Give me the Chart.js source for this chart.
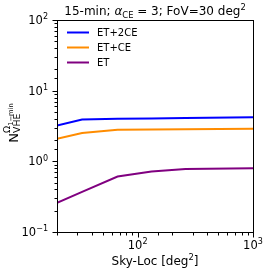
<!DOCTYPE html>
<html>
<head>
<meta charset="utf-8">
<script src="https://cdn.jsdelivr.net/npm/chart.js@4/dist/chart.umd.min.js"></script>
<style>
html,body{margin:0;padding:0;background:#fff;}
#wrap{width:266px;height:273px;}
</style>
</head>
<body>
<div id="wrap"><canvas id="c" width="266" height="273"></canvas></div>
<script>
// ---- data ----
const skyLoc = [20, 33, 67, 132, 260, 1000];           // deg^2
const seriesNames = ['ET+2CE', 'ET+CE', 'ET'];
const et2ce = [3.22, 3.9, 4.0, 4.05, 4.1, 4.2];
const etce  = [2.08, 2.52, 2.8, 2.83, 2.85, 2.88];
const et    = [0.258, 0.37, 0.61, 0.72, 0.78, 0.80];
const seriesColors = ['#0000ff', '#ff8c00', '#800080'];
const xTickValues = [100, 1000];
const xTickExps = ['2', '3'];
const yTickValues = [0.1, 1, 10, 100];
const yTickExps = ['\u22121', '0', '1', '2'];

const FONT = '"DejaVu Sans", sans-serif';

function pts(arr){ return skyLoc.map((x,i)=>({x:x, y:arr[i]})); }

function measureParts(ctx, parts){
  let w = 0;
  for (const p of parts){
    ctx.font = (p.it ? 'italic ' : '') + p.s + 'px ' + FONT;
    p.w = ctx.measureText(p.t).width;
    w += p.w;
  }
  return w;
}
function drawParts(ctx, parts, x, y){
  let cx = x;
  for (const p of parts){
    ctx.font = (p.it ? 'italic ' : '') + p.s + 'px ' + FONT;
    ctx.fillText(p.t, cx, y + (p.dy||0));
    cx += p.w;
  }
}

const decor = {
  id: 'decor',
  afterDraw(chart){
    const ctx = chart.ctx;
    const a = chart.chartArea;
    const xs = chart.scales.x, ys = chart.scales.y;
    ctx.save();
    ctx.fillStyle = '#000';
    ctx.strokeStyle = '#000';
    ctx.textBaseline = 'alphabetic';
    ctx.textAlign = 'left';
    // frame
    ctx.lineWidth = 1;
    ctx.strokeRect(Math.round(a.left)+0.5, Math.round(a.top)+0.5, Math.round(a.right-a.left), Math.round(a.bottom-a.top));
    // ticks
    const isMajor = v => Math.abs(Math.log10(v) - Math.round(Math.log10(v))) < 1e-9;
    ctx.beginPath();
    for (const t of xs.ticks){
      if (t.value < xs.min - 1e-9 || t.value > xs.max + 1e-9) continue;
      const px = Math.round(xs.getPixelForValue(t.value)) + 0.5;
      const len = isMajor(t.value) ? 5 : 3;
      ctx.moveTo(px, Math.round(a.bottom)+0.5);
      ctx.lineTo(px, Math.round(a.bottom)+0.5+len);
    }
    for (const t of ys.ticks){
      if (t.value < ys.min - 1e-12 || t.value > ys.max + 1e-9) continue;
      const py = Math.round(ys.getPixelForValue(t.value)) + 0.5;
      const len = isMajor(t.value) ? 5 : 3;
      ctx.moveTo(Math.round(a.left)+0.5, py);
      ctx.lineTo(Math.round(a.left)+0.5-len, py);
    }
    ctx.stroke();
    // tick labels
    const TS = 11.5;
    xTickValues.forEach((v,i)=>{
      const parts = [{t:'10', s:TS}, {t:xTickExps[i], s:TS*0.7, dy:-TS*0.42}];
      const w = measureParts(ctx, parts);
      const px = xs.getPixelForValue(v);
      drawParts(ctx, parts, px - w/2, a.bottom + 17);
    });
    yTickValues.forEach((v,i)=>{
      const parts = [{t:'10', s:TS}, {t:yTickExps[i], s:TS*0.7, dy:-TS*0.42}];
      const w = measureParts(ctx, parts);
      const py = ys.getPixelForValue(v);
      drawParts(ctx, parts, a.left - 9 - w, py + TS*0.36);
    });
    // x label
    {
      const S = 12;
      const parts = [{t:'Sky-Loc [deg', s:S}, {t:'2', s:S*0.7, dy:-S*0.42}, {t:']', s:S}];
      const w = measureParts(ctx, parts);
      drawParts(ctx, parts, (a.left+a.right)/2 - w/2, 265);
    }
    // title
    {
      const S = 12;
      const parts = [
        {t:'15-min; ', s:S},
        {t:'\u03b1', s:S, it:true},
        {t:'CE', s:S*0.7, dy:S*0.22},
        {t:' = 3; FoV=30 deg', s:S},
        {t:'2', s:S*0.7, dy:-S*0.42}
      ];
      const w = measureParts(ctx, parts);
      drawParts(ctx, parts, (a.left+a.right)/2 - w/2, 15);
    }
    // y label (rotated)
    {
      const S = 13;
      ctx.save();
      ctx.translate(17.5, 123);
      ctx.rotate(-Math.PI/2);
      ctx.font = S + 'px ' + FONT;
      const wN = ctx.measureText('N').width;
      const ss = S*0.72;
      ctx.font = ss + 'px ' + FONT;
      const wV = ctx.measureText('VHE').width;
      const wO = ctx.measureText('\u03a9').width;
      const s2 = ss*0.72;
      ctx.font = s2 + 'px ' + FONT;
      const w1 = ctx.measureText('1\u2212min').width;
      const total = wN + Math.max(wV, wO + w1);
      const x0 = -total/2;
      ctx.font = S + 'px ' + FONT;
      ctx.fillText('N', x0, 0);
      ctx.font = ss + 'px ' + FONT;
      ctx.fillText('VHE', x0 + wN, S*0.22);
      ctx.fillText('\u03a9', x0 + wN, -S*0.55);
      ctx.font = s2 + 'px ' + FONT;
      ctx.fillText('1\u2212min', x0 + wN + wO, -S*0.55 + ss*0.25);
      ctx.restore();
    }
    // legend
    {
      ctx.font = '10px ' + FONT;
      chart.data.datasets.forEach((ds, i)=>{
        const y = 32.5 + i*15;
        ctx.strokeStyle = ds.borderColor;
        ctx.lineWidth = 2;
        ctx.beginPath();
        ctx.moveTo(67, y);
        ctx.lineTo(89, y);
        ctx.stroke();
        ctx.fillStyle = '#000';
        ctx.textBaseline = 'middle';
        ctx.fillText(ds.label, 97, y + 0.5);
      });
    }
    ctx.restore();
  }
};

new Chart(document.getElementById('c'), {
  type: 'scatter',
  data: {
    datasets: [et2ce, etce, et].map((arr, i)=>({
      label: seriesNames[i],
      data: pts(arr),
      borderColor: seriesColors[i],
      backgroundColor: seriesColors[i],
      showLine: true,
      borderWidth: 2,
      pointRadius: 0,
      tension: 0,
      fill: false
    }))
  },
  options: {
    responsive: false,
    animation: false,
    devicePixelRatio: 1,
    layout: { padding: { left: 0, top: 20, right: 13, bottom: 0 } },
    plugins: { legend: { display: false }, title: { display: false }, tooltip: { enabled: false } },
    scales: {
      x: {
        type: 'logarithmic', min: 20, max: 1000,
        grid: { display: false }, border: { display: false },
        ticks: { display: false },
        afterFit: s => { s.height = 41; }
      },
      y: {
        type: 'logarithmic', min: 0.1, max: 100,
        grid: { display: false }, border: { display: false },
        ticks: { display: false },
        afterFit: s => { s.width = 57; }
      }
    }
  },
  plugins: [decor]
});
</script>
</body>
</html>
